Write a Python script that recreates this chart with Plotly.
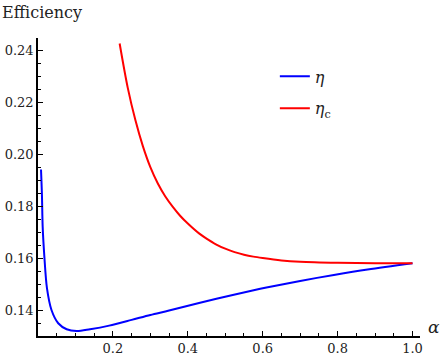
import plotly.graph_objects as go

# Blue curve: eta vs alpha
alpha_eta = [0.008, 0.0105, 0.0125, 0.017, 0.024, 0.036, 0.054, 0.0765, 0.103, 0.139,
             0.19, 0.25, 0.30, 0.35, 0.43, 0.52, 0.61, 0.70, 0.79, 0.88, 1.0]
eta = [0.1941, 0.1845, 0.172, 0.1605, 0.1483, 0.1400, 0.1349, 0.1326, 0.1319, 0.1326,
       0.1340, 0.1362, 0.1381, 0.1398, 0.1427, 0.1458, 0.1487, 0.1512, 0.1535, 0.1556, 0.1580]

# Red curve: eta_c vs alpha
alpha_etac = [0.218, 0.24, 0.26, 0.28, 0.30, 0.32, 0.34, 0.36, 0.38, 0.40,
              0.43, 0.45, 0.475, 0.50, 0.525, 0.55, 0.575, 0.60, 0.65, 0.70, 0.80, 0.90, 1.0]
etac = [0.2426, 0.2253, 0.2131, 0.2031, 0.1950, 0.1887, 0.1837, 0.1797, 0.1762, 0.1733,
        0.1695, 0.1675, 0.1653, 0.1636, 0.1623, 0.1613, 0.16055, 0.1600, 0.1591, 0.1586,
        0.1582, 0.1580, 0.1580]

x_ticks = [0.2, 0.4, 0.6, 0.8, 1.0]
x_ticktext = ["0.2", "0.4", "0.6", "0.8", "1.0"]
y_ticks = [0.14, 0.16, 0.18, 0.20, 0.22, 0.24]
y_ticktext = ["0.14", "0.16", "0.18", "0.20", "0.22", "0.24"]

FONT = "DejaVu Serif"

fig = go.Figure()
fig.add_trace(go.Scatter(x=alpha_eta, y=eta, mode="lines",
                         line=dict(color="#0000ff", width=2, shape="spline", smoothing=0.9),
                         name="<i>η</i>", legendgroup="a"))
fig.add_trace(go.Scatter(x=alpha_etac, y=etac, mode="lines",
                         line=dict(color="#ff0000", width=2, shape="spline", smoothing=0.9),
                         name="<i>η</i><sub>c</sub>", legendgroup="b"))

axis_common = dict(showgrid=False, zeroline=False, showline=True, linecolor="black",
                   linewidth=1.5, ticks="inside", ticklen=5, tickwidth=1.2, tickcolor="black",
                   automargin=False,
                   tickfont=dict(family=FONT, size=13, color="#222"))

fig.update_layout(
    width=443, height=360,
    font=dict(family=FONT),
    margin=dict(l=38, r=22.5, t=37.7, b=24),
    paper_bgcolor="white", plot_bgcolor="white",
    xaxis=dict(range=[0, 1.02], tickmode="array", tickvals=x_ticks, ticktext=x_ticktext,
               minor=dict(tickmode="linear", tick0=0, dtick=0.05, ticks="inside",
                          ticklen=3, tickwidth=1, tickcolor="black"),
               **axis_common),
    yaxis=dict(range=[0.13, 0.2447], tickmode="array", tickvals=y_ticks, ticktext=y_ticktext,
               minor=dict(tickmode="linear", tick0=0.13, dtick=0.005, ticks="inside",
                          ticklen=3, tickwidth=1, tickcolor="black"),
               **axis_common),
    showlegend=True,
    legend=dict(x=0.62, y=0.928, xanchor="left", yanchor="top", bgcolor="rgba(0,0,0,0)",
                font=dict(family=FONT, size=16, color="#222"), tracegroupgap=8),
    annotations=[
        dict(text="Efficiency", xref="paper", yref="paper", x=0, y=1, xshift=-38, yshift=37,
             xanchor="left", yanchor="top", showarrow=False,
             font=dict(family=FONT, size=16, color="#222")),
        dict(text="<i>α</i>", xref="paper", yref="paper", x=1, y=0, xshift=14, yshift=9,
             xanchor="center", yanchor="middle", showarrow=False,
             font=dict(family=FONT, size=17, color="#222")),
    ],
)

fig.write_html("out.html", config={"displayModeBar": False},
               post_script="document.body.style.margin='0';")
